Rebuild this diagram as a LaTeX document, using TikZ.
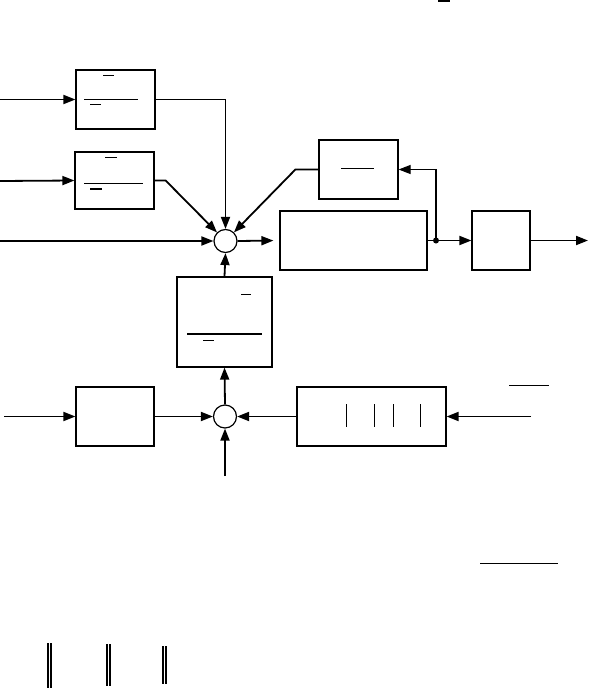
\documentclass[tikz,border=0pt]{standalone}
\usepackage{tikz}
\usetikzlibrary{arrows.meta,positioning,calc}

\begin{document}
\begin{tikzpicture}[x=1pt,y=-1pt,
    block/.style={draw,rectangle,line width=1.2pt,inner sep=0pt},
    summer/.style={draw,circle,line width=1.2pt,minimum size=23pt,inner sep=0pt},
    sig/.style={line width=1.8pt,-{Triangle[length=12pt,width=9pt]}},
    wire/.style={line width=1.8pt},
    fbline/.style={line width=1.1pt,-{Triangle[length=12pt,width=9pt]}},
    bar/.style={line width=1.2pt}]
      % page frame (pixel units, y down)
      \useasboundingbox (0,0) rectangle (590,688);

      % Upper loop
      \node[block,minimum width=79pt,minimum height=59pt] (pre1) at (115.5,99.5) {};
      \node[block,minimum width=79pt,minimum height=57pt] (pre2) at (114.5,180.5) {};
      \node[summer] (sumA) at (225.5,241) {};
      \node[block,minimum width=79pt,minimum height=59pt] (fb) at (358.5,169.5) {};
      \node[block,minimum width=147pt,minimum height=59pt] (plant) at (353.5,240.5) {};
      \node[block,minimum width=58pt,minimum height=59pt] (outblk) at (501,240.5) {};
      \node[block,minimum width=95pt,minimum height=90pt] (mid) at (224.5,322) {};

      % Lower row
      \node[block,minimum width=78pt,minimum height=59pt] (lowL) at (115,416.5) {};
      \node[summer] (sumB) at (225,416.5) {};
      \node[block,minimum width=149pt,minimum height=59pt] (lowR) at (371.5,416.5) {};

      % free ends and branch point
      \coordinate (in1) at (0,99.5);
      \coordinate (in2) at (0,181);
      \coordinate (in3) at (0,241);
      \coordinate (in4) at (4,416.5);
      \coordinate (in5) at (531,416.5);
      \coordinate (in6) at (225,476);
      \coordinate (out) at (588,240.5);
      \fill (436,240.5) circle (3pt) coordinate (tap);

      % signals
      \draw[sig] (in1) -- (pre1.west);
      \draw[sig] (in2) -- (pre2.west);
      \draw[sig] (in3) -- (sumA.west);
      \draw[sig] (pre1.east) -| (sumA.north);
      \draw[sig] (pre2.east) -- ++(11,0) -- (sumA);
      \draw[sig] (fb.west) -- ++(-23,0) -- (sumA);
      \draw[sig,shorten >=6pt] (sumA.east) -- (plant.west);
      \draw[wire] (plant.east) -- (tap);
      \draw[sig] (tap) -- (outblk.west);
      \draw[sig] (outblk.east) -- (out);
      \draw[fbline] (tap) |- (fb.east);
      \draw[sig] (mid.north) -- (sumA.south);
      \draw[sig] (sumB.north) -- (mid.south);
      \draw[sig] (in4) -- (lowL.west);
      \draw[sig] (lowL.east) -- (sumB.west);
      \draw[sig] (in5) -- (lowR.east);
      \draw[sig] (lowR.west) -- (sumB.east);
      \draw[sig] (in6) -- (sumB.south);

      % leftover rules of the formulas
      \foreach \xa/\xb/\yy in {103/114/75.3, 84/138/99.3, 90/101/104.3,
                               105/117/157.3, 84/143/183.3, 90/102/189,
                               341/374/168.3,
                               241/251/294.3, 187/262/334, 203/214/340.3,
                               509/549/385.7, 480/558/563.3, 438/450/1}
        \draw[bar] (\xa,\yy) -- (\xb,\yy);
      \foreach \xx in {346.7,374.7,393.7,420.7}
        \draw[bar] (\xx,404) -- (\xx,427.3);
      % double bars at the bottom
      \foreach \xx/\ya/\yb in {48/643/688, 107/644/686, 163/646/684} {
        \draw[bar] (\xx,\ya) -- (\xx,\yb);
        \draw[bar] (\xx+3,\ya) -- (\xx+3,\yb);
      }
\end{tikzpicture}
\end{document}
